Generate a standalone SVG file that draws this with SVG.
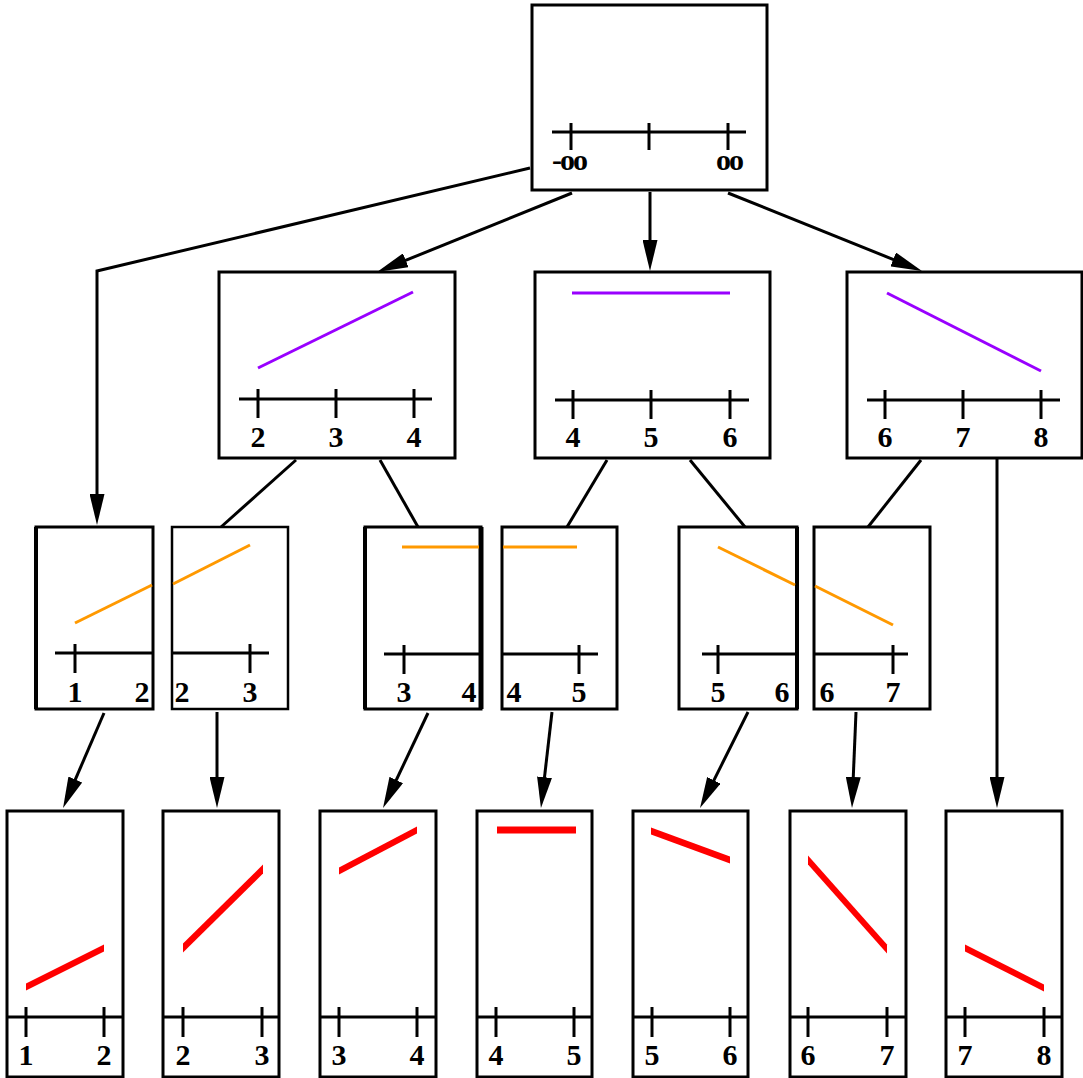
<svg xmlns="http://www.w3.org/2000/svg" width="1083" height="1078" viewBox="0 0 1083 1078">
<style>
.box{fill:#fff;stroke:#000;stroke-width:3}
.ax{stroke:#000;stroke-width:3;fill:none}
.edge{stroke:#000;stroke-width:3;fill:none}
.arr{stroke:#000;stroke-width:3;fill:none;marker-end:url(#ah)}
.lbl{font-family:"Liberation Serif","Times New Roman",serif;font-weight:bold;font-size:30px;text-anchor:middle;fill:#000}
.pur{stroke:#9900ff;stroke-width:3;fill:none}
.org{stroke:#ff9900;stroke-width:3;fill:none}
.red{fill:#ff0000;stroke:none}
</style>
<defs>
<marker id="ah" viewBox="0 0 31 15" refX="21" refY="7.5" markerWidth="31" markerHeight="15" markerUnits="userSpaceOnUse" orient="auto">
<path d="M0,0 L31,7.5 L0,15 Z" fill="#000"/>
</marker>
</defs>
<rect width="1083" height="1078" fill="#fff"/>

<g id="connectors">
<polyline class="arr" points="530,168 97,271 97,515"/>
<line class="arr" x1="572" y1="193" x2="386.3" y2="268.2"/>
<line class="arr" x1="650" y1="192" x2="650" y2="261"/>
<line class="arr" x1="728" y1="193" x2="912.7" y2="267.3"/>
<line class="arr" x1="997" y1="459" x2="997" y2="798"/>
<line class="edge" x1="296" y1="460" x2="221" y2="527"/>
<line class="edge" x1="380" y1="460" x2="418" y2="527"/>
<line class="edge" x1="607" y1="460" x2="567" y2="527"/>
<line class="edge" x1="690" y1="460" x2="745" y2="527"/>
<line class="edge" x1="921" y1="460" x2="868" y2="527"/>
<line class="arr" x1="104" y1="713" x2="67" y2="798.8"/>
<line class="arr" x1="217" y1="712" x2="217" y2="798"/>
<line class="arr" x1="428" y1="713" x2="387.3" y2="799"/>
<line class="arr" x1="552" y1="712" x2="542.1" y2="798.1"/>
<line class="arr" x1="748" y1="712" x2="704.5" y2="799.1"/>
<line class="arr" x1="856" y1="712" x2="852.4" y2="798"/>
</g>

<g id="root">
<rect class="box" x="532" y="5" width="235" height="185"/>
<line class="ax" x1="552" y1="132" x2="746" y2="132"/>
<line class="ax" x1="571" y1="123" x2="571" y2="150"/>
<line class="ax" x1="649" y1="123" x2="649" y2="150"/>
<line class="ax" x1="728" y1="123" x2="728" y2="150"/>
<text class="lbl" x="569" y="170" letter-spacing="-2">-oo</text>
<text class="lbl" x="729" y="170" letter-spacing="-2">oo</text>
</g>

<g id="n24">
<rect class="box" x="219" y="272" width="236" height="186"/>
<line class="pur" x1="258" y1="368" x2="413" y2="292"/>
<line class="ax" x1="239" y1="399" x2="432" y2="399"/>
<line class="ax" x1="258" y1="389" x2="258" y2="418"/>
<line class="ax" x1="336" y1="389" x2="336" y2="418"/>
<line class="ax" x1="414" y1="389" x2="414" y2="418"/>
<text class="lbl" x="258" y="447">2</text>
<text class="lbl" x="336" y="447">3</text>
<text class="lbl" x="414" y="447">4</text>
</g>

<g id="n46">
<rect class="box" x="535" y="272" width="235" height="186"/>
<line class="pur" x1="572" y1="293" x2="730" y2="293"/>
<line class="ax" x1="555" y1="400" x2="749" y2="400"/>
<line class="ax" x1="573" y1="390" x2="573" y2="419"/>
<line class="ax" x1="651" y1="390" x2="651" y2="419"/>
<line class="ax" x1="730" y1="390" x2="730" y2="419"/>
<text class="lbl" x="573" y="447">4</text>
<text class="lbl" x="651" y="447">5</text>
<text class="lbl" x="730" y="447">6</text>
</g>

<g id="n68">
<rect class="box" x="847" y="272" width="235" height="186"/>
<line class="pur" x1="887" y1="293" x2="1041" y2="371"/>
<line class="ax" x1="867" y1="400" x2="1060" y2="400"/>
<line class="ax" x1="885" y1="390" x2="885" y2="419"/>
<line class="ax" x1="963" y1="390" x2="963" y2="419"/>
<line class="ax" x1="1041" y1="390" x2="1041" y2="419"/>
<text class="lbl" x="885" y="447">6</text>
<text class="lbl" x="963" y="447">7</text>
<text class="lbl" x="1041" y="447">8</text>
</g>

<g id="m12">
<rect class="box" x="36" y="527" width="117" height="182"/>
<line x1="36" y1="527" x2="36" y2="709" stroke="#000" stroke-width="4"/>
<line class="org" x1="75" y1="623" x2="152" y2="585"/>
<line class="ax" x1="55" y1="653" x2="153" y2="653"/>
<line class="ax" x1="75" y1="644" x2="75" y2="673"/>
<text class="lbl" x="75" y="702">1</text>
<text class="lbl" x="142" y="702">2</text>
</g>

<g id="m23">
<rect class="box" x="172" y="527" width="116" height="182" style="stroke-width:2.5"/>
<line class="org" x1="173" y1="584" x2="250" y2="545"/>
<line class="ax" x1="172" y1="653" x2="269" y2="653"/>
<line class="ax" x1="250" y1="644" x2="250" y2="673"/>
<text class="lbl" x="182" y="702">2</text>
<text class="lbl" x="250" y="702">3</text>
</g>

<g id="m34">
<rect class="box" x="365" y="527" width="116" height="182"/>
<line x1="365" y1="527" x2="365" y2="709" stroke="#000" stroke-width="4"/>
<line x1="481" y1="527" x2="481" y2="709" stroke="#000" stroke-width="5"/>
<line class="org" x1="402" y1="547" x2="479" y2="547"/>
<line class="ax" x1="384" y1="654" x2="481" y2="654"/>
<line class="ax" x1="404" y1="645" x2="404" y2="674"/>
<text class="lbl" x="404" y="702">3</text>
<text class="lbl" x="469" y="702">4</text>
</g>

<g id="m45">
<rect class="box" x="502" y="527" width="115" height="182"/>
<line class="org" x1="503" y1="547" x2="577" y2="547"/>
<line class="ax" x1="502" y1="654" x2="598" y2="654"/>
<line class="ax" x1="579" y1="645" x2="579" y2="674"/>
<text class="lbl" x="514" y="702">4</text>
<text class="lbl" x="579" y="702">5</text>
</g>

<g id="m56">
<rect class="box" x="679" y="527" width="118" height="182"/>
<line x1="797" y1="527" x2="797" y2="709" stroke="#000" stroke-width="4"/>
<line class="org" x1="718" y1="547" x2="795" y2="585"/>
<line class="ax" x1="702" y1="654" x2="797" y2="654"/>
<line class="ax" x1="718" y1="645" x2="718" y2="674"/>
<text class="lbl" x="718" y="702">5</text>
<text class="lbl" x="782" y="702">6</text>
</g>

<g id="m67">
<rect class="box" x="814" y="527" width="116" height="182"/>
<line class="org" x1="815" y1="586" x2="893" y2="625"/>
<line class="ax" x1="814" y1="654" x2="908" y2="654"/>
<line class="ax" x1="893" y1="645" x2="893" y2="674"/>
<text class="lbl" x="827" y="702">6</text>
<text class="lbl" x="893" y="702">7</text>
</g>

<g id="b12">
<rect class="box" x="7" y="811" width="116" height="266"/>
<polygon class="red" points="26,983.5 104,944.5 104,951.5 26,990.5"/>
<line class="ax" x1="7" y1="1017" x2="123" y2="1017"/>
<line class="ax" x1="26" y1="1007" x2="26" y2="1037"/>
<line class="ax" x1="104" y1="1007" x2="104" y2="1037"/>
<text class="lbl" x="26" y="1065">1</text>
<text class="lbl" x="104" y="1065">2</text>
</g>

<g id="b23">
<rect class="box" x="163" y="811" width="116" height="266"/>
<polygon class="red" points="183,943.5 263,864.5 263,873.5 183,952.5"/>
<line class="ax" x1="163" y1="1017" x2="279" y2="1017"/>
<line class="ax" x1="183" y1="1007" x2="183" y2="1037"/>
<line class="ax" x1="262" y1="1007" x2="262" y2="1037"/>
<text class="lbl" x="183" y="1065">2</text>
<text class="lbl" x="262" y="1065">3</text>
</g>

<g id="b34">
<rect class="box" x="320" y="811" width="116" height="266"/>
<polygon class="red" points="339,867.5 417,826.5 417,833.5 339,874.5"/>
<line class="ax" x1="320" y1="1017" x2="436" y2="1017"/>
<line class="ax" x1="339" y1="1007" x2="339" y2="1037"/>
<line class="ax" x1="417" y1="1007" x2="417" y2="1037"/>
<text class="lbl" x="339" y="1065">3</text>
<text class="lbl" x="417" y="1065">4</text>
</g>

<g id="b45">
<rect class="box" x="477" y="811" width="115" height="266"/>
<polygon class="red" points="497,826.5 576,826.5 576,833.5 497,833.5"/>
<line class="ax" x1="477" y1="1017" x2="592" y2="1017"/>
<line class="ax" x1="496" y1="1007" x2="496" y2="1037"/>
<line class="ax" x1="574" y1="1007" x2="574" y2="1037"/>
<text class="lbl" x="496" y="1065">4</text>
<text class="lbl" x="574" y="1065">5</text>
</g>

<g id="b56">
<rect class="box" x="633" y="811" width="115" height="266"/>
<polygon class="red" points="651,827.5 730,856.5 730,863.5 651,834.5"/>
<line class="ax" x1="633" y1="1017" x2="748" y2="1017"/>
<line class="ax" x1="652" y1="1007" x2="652" y2="1037"/>
<line class="ax" x1="730" y1="1007" x2="730" y2="1037"/>
<text class="lbl" x="652" y="1065">5</text>
<text class="lbl" x="730" y="1065">6</text>
</g>

<g id="b67">
<rect class="box" x="790" y="811" width="116" height="266"/>
<polygon class="red" points="808,855.5 887,944.5 887,953.5 808,864.5"/>
<line class="ax" x1="790" y1="1017" x2="906" y2="1017"/>
<line class="ax" x1="808" y1="1007" x2="808" y2="1037"/>
<line class="ax" x1="887" y1="1007" x2="887" y2="1037"/>
<text class="lbl" x="808" y="1065">6</text>
<text class="lbl" x="887" y="1065">7</text>
</g>

<g id="b78">
<rect class="box" x="946" y="811" width="116" height="266"/>
<polygon class="red" points="965,944.5 1044,984.5 1044,991.5 965,951.5"/>
<line class="ax" x1="946" y1="1017" x2="1062" y2="1017"/>
<line class="ax" x1="965" y1="1007" x2="965" y2="1037"/>
<line class="ax" x1="1044" y1="1007" x2="1044" y2="1037"/>
<text class="lbl" x="965" y="1065">7</text>
<text class="lbl" x="1044" y="1065">8</text>
</g>
</svg>
